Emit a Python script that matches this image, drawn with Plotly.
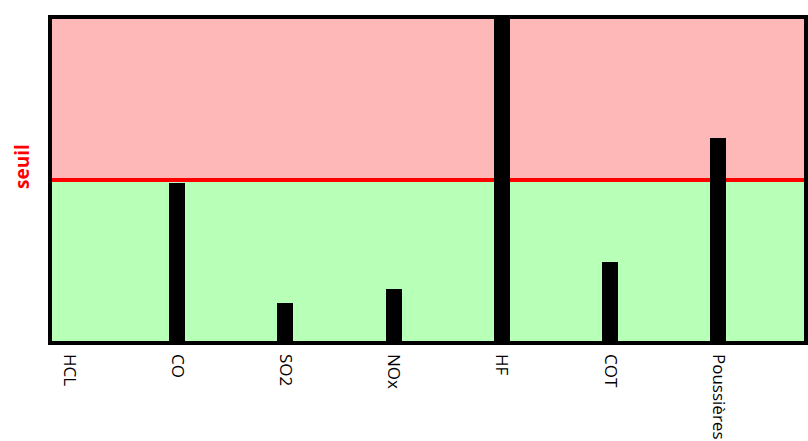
import plotly.graph_objects as go

categories = ["HCL", "CO", "SO2", "NOx", "HF", "COT", "Poussières"]
values = [0.01, 0.98, 0.245, 0.33, 2.0, 0.5, 1.26]
seuil = 1.0
y_max = 2.0

fig = go.Figure()
fig.add_trace(go.Bar(
    x=list(range(len(categories))), y=values,
    marker=dict(color="black", line=dict(width=0)),
    width=0.148,
))

fig.add_shape(type="rect", xref="paper", yref="y", x0=0, x1=1, y0=seuil, y1=y_max,
              fillcolor="#FFB8B8", line=dict(width=0), layer="below")
fig.add_shape(type="rect", xref="paper", yref="y", x0=0, x1=1, y0=0, y1=seuil,
              fillcolor="#B8FFB8", line=dict(width=0), layer="below")
fig.add_shape(type="line", xref="paper", yref="y", x0=0, x1=1, y0=seuil, y1=seuil,
              line=dict(color="#FF0000", width=4), layer="below")
fig.add_shape(type="rect", xref="paper", yref="paper", x0=0, x1=1, y0=0, y1=1,
              line=dict(color="black", width=4), fillcolor="rgba(0,0,0,0)")

fig.add_annotation(text="<b>seuil</b>", xref="paper", yref="y", x=0, y=seuil,
                   xanchor="right", xshift=-14, yshift=13, textangle=-90,
                   showarrow=False, borderpad=0,
                   font=dict(color="#FF0000", size=19, family="Open Sans"))

fig.update_layout(
    width=808, height=441,
    margin=dict(l=50, r=2, t=17, b=98, autoexpand=False),
    paper_bgcolor="white", plot_bgcolor="white",
    showlegend=False,
    xaxis=dict(range=[-0.176, 6.81], tickmode="array",
               tickvals=list(range(len(categories))), ticktext=categories,
               tickangle=90, showgrid=False, zeroline=False, showline=False,
               ticks="", ticklabelstandoff=10, automargin=False,
               tickfont=dict(family="Open Sans", size=17, color="black")),
    yaxis=dict(range=[0, y_max], showgrid=False, zeroline=False, showline=False,
               showticklabels=False, ticks="", automargin=False),
    bargap=0,
)

fig.write_html(
    "out.html",
    config={"displayModeBar": False},
    post_script="document.body.style.margin='0';document.body.style.overflow='hidden';",
)
